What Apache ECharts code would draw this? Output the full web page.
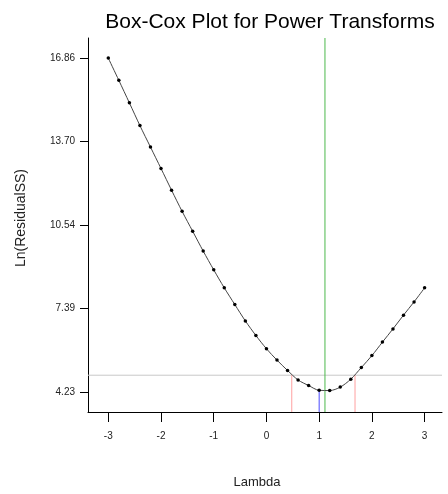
<!DOCTYPE html>
<html><head><meta charset="utf-8">
<script src="https://cdn.jsdelivr.net/npm/echarts@6/dist/echarts.min.js"></script>
<style>html,body{margin:0;padding:0;background:#fff}#c{width:448px;height:494px}</style>
</head><body><div id="c"></div>
<script>
const lambdas = [-3.0,-2.8,-2.6,-2.4,-2.2,-2.0,-1.8,-1.6,-1.4,-1.2,-1.0,-0.8,-0.6,-0.4,-0.2,0.0,0.2,0.4,0.6,0.8,1.0,1.2,1.4,1.6,1.8,2.0,2.2,2.4,2.6,2.8,3.0];
const lnRSS = [16.85,16.01,15.16,14.30,13.49,12.68,11.86,11.06,10.31,9.56,8.85,8.17,7.54,6.92,6.37,5.87,5.44,5.05,4.69,4.48,4.30,4.29,4.42,4.72,5.16,5.61,6.12,6.62,7.14,7.64,8.17];
const yTicks = [4.23,7.39,10.54,13.70,16.86];
const xTicks = [-3,-2,-1,0,1,2,3];
const bestLambda = 1.11;
const chosenLambda = 1.0;
const chosenLn = 4.30;
const ciLow = 0.48, ciHigh = 1.68;
const ciLevel = 4.87;
const xMin = -3.385, xMax = 3.33, yMin = 3.48, yMax = 17.61;

const chart = echarts.init(document.getElementById('c'));
const font = 'Liberation Sans, Arial, sans-serif';
chart.setOption({
  animation:false,
  title:{text:'Box-Cox Plot for Power Transforms',left:265,textAlign:'center',top:7,
    textStyle:{fontFamily:font,fontSize:21,fontWeight:'normal',color:'#000'}},
  grid:{left:88,right:6,top:38,bottom:80},
  xAxis:{type:'value',min:xMin,max:xMax,
    name:'Lambda',nameLocation:'middle',nameGap:64,
    nameTextStyle:{fontFamily:font,fontSize:13,color:'#222',padding:[0,16,0,0]},
    axisLine:{show:true,onZero:false,lineStyle:{color:'#000',width:1}},
    axisTick:{show:true,length:10,customValues:xTicks,lineStyle:{color:'#000'}},
    axisLabel:{customValues:xTicks,margin:19,fontFamily:font,fontSize:10,color:'#222'},
    splitLine:{show:false}},
  yAxis:{type:'value',min:yMin,max:yMax,
    name:'Ln(ResidualSS)',nameLocation:'middle',nameGap:60,nameRotate:90,
    nameTextStyle:{fontFamily:font,fontSize:14,color:'#222',padding:[0,0,0,14]},
    axisLine:{show:true,onZero:false,lineStyle:{color:'#000',width:1}},
    axisTick:{show:true,length:8,customValues:yTicks,lineStyle:{color:'#000'}},
    axisLabel:{customValues:yTicks,margin:13,fontFamily:font,fontSize:10,color:'#222',
      formatter:v=>v.toFixed(2)},
    splitLine:{show:false}},
  series:[
    {type:'line',data:[[xMin,ciLevel],[xMax,ciLevel]],symbol:'none',lineStyle:{color:'#c8c8c8',width:1},z:1},
    {type:'line',data:[[ciLow,yMin],[ciLow,ciLevel]],symbol:'none',lineStyle:{color:'#ffa0a0',width:1},z:1},
    {type:'line',data:[[ciHigh,yMin],[ciHigh,ciLevel]],symbol:'none',lineStyle:{color:'#ffa0a0',width:1},z:1},
    {type:'line',data:[[chosenLambda,yMin],[chosenLambda,chosenLn]],symbol:'none',lineStyle:{color:'#4a4aff',width:1},z:2},
    {type:'line',data:[[bestLambda,yMin],[bestLambda,yMax]],symbol:'none',lineStyle:{color:'#4cb84c',width:1},z:2},
    {type:'line',data:lambdas.map((l,i)=>[l,lnRSS[i]]),smooth:0.3,symbol:'circle',symbolSize:3.5,
      itemStyle:{color:'#000'},lineStyle:{color:'#444',width:1},z:3}
  ]
});
</script></body></html>
